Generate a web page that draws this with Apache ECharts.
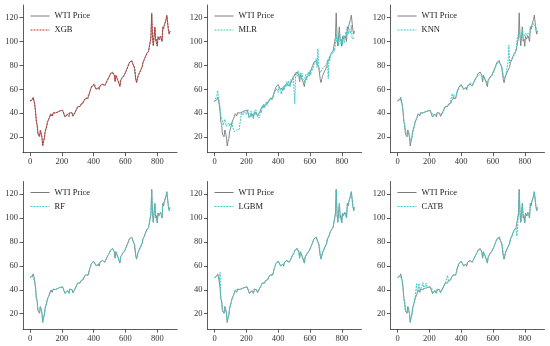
<!DOCTYPE html>
<html>
<head>
<meta charset="utf-8">
<script src="https://cdn.jsdelivr.net/npm/echarts@6/dist/echarts.min.js"></script>
<style>
html,body{margin:0;padding:0;background:#fff;}
#chart{width:550px;height:346px;}
</style>
</head>
<body>
<div id="chart"></div>
<script>
// sample index step (every 5th observation of the daily series)
const sampleStep = 5;
const xTicks = [0, 200, 400, 600, 800];
const yTicks = [20, 40, 60, 80, 100, 120];
const modelNames = ['XGB', 'MLR', 'KNN', 'RF', 'LGBM', 'CATB'];

const wti = [
50.1,50.0,50.3,51.5,53.3,50.9,46.8,41.3,32.5,30.5,
22.4,22.0,20.3,26.0,23.6,20.1,12.6,16.5,18.8,24.6,
24.0,29.4,32.5,33.3,35.5,37.0,39.6,38.5,37.8,40.5,
39.3,40.6,40.2,40.8,41.0,41.2,40.3,41.7,42.0,42.7,
42.9,42.3,43.0,41.5,36.8,37.3,38.3,39.3,39.9,37.0,
40.6,40.2,41.0,40.0,37.4,36.2,38.8,41.4,41.4,42.0,
45.7,45.3,46.0,45.6,47.6,48.1,47.6,48.5,50.6,52.2,
52.4,53.0,52.8,52.2,54.6,57.8,59.5,61.7,63.2,61.5,
64.0,65.0,64.4,60.0,58.6,59.3,61.4,59.7,63.1,63.0,
63.5,64.5,65.0,65.4,63.0,63.6,66.1,67.0,68.8,70.3,
71.0,73.1,73.6,74.0,74.5,72.9,71.7,66.4,71.9,72.0,
71.6,66.5,65.4,62.3,67.5,68.5,70.0,68.4,71.4,72.6,
73.2,74.0,77.3,79.0,80.4,82.7,84.0,82.8,84.0,81.6,
82.0,78.4,76.8,68.2,65.6,69.0,71.6,70.9,71.4,76.0,
75.2,78.9,82.6,84.0,85.0,87.4,87.4,90.3,89.4,92.0,
92.0,92.8,103.4,124.0,104.0,96.4,104.7,112.3,100.3,102.0,
96.0,104.3,102.0,101.8,104.7,103.0,100.0,112.4,110.3,114.1,
115.0,118.5,122.1,120.7,109.6,106.2,109.0];

const xgb = [
50.3,49.8,50.6,51.2,53.0,51.4,47.2,40.6,33.4,29.8,
23.0,21.6,21.0,25.4,24.1,19.6,13.4,16.0,19.3,24.1,
24.5,28.8,32.9,33.0,35.9,36.6,39.2,38.9,37.4,40.1,
39.7,40.3,40.5,40.5,41.3,40.9,40.6,41.4,42.3,42.4,
42.6,42.6,42.7,41.9,37.3,37.0,38.6,39.0,40.2,37.4,
40.2,40.5,40.7,40.3,37.8,36.6,38.5,41.0,41.7,42.3,
45.2,45.6,45.7,45.9,47.3,48.3,47.9,48.2,50.2,52.0,
52.6,52.7,53.0,52.5,54.2,57.4,59.8,61.3,62.8,61.9,
63.6,64.6,64.7,60.5,58.9,59.0,61.0,60.1,62.7,63.3,
63.2,64.2,65.3,65.0,63.4,63.3,65.8,67.3,68.4,70.0,
71.3,72.8,73.9,73.7,74.2,73.3,71.3,66.9,71.5,72.3,
71.2,66.9,65.1,62.8,67.1,68.8,69.7,68.8,71.1,72.9,
72.9,74.3,76.9,79.3,80.1,82.3,83.6,83.1,83.7,81.9,
81.7,78.8,76.4,68.7,66.0,68.7,71.3,71.2,71.1,75.6,
75.5,78.6,82.2,84.3,84.7,87.0,87.7,89.9,89.7,91.7,
92.3,92.5,102.6,122.8,104.6,97.0,104.2,111.6,100.9,101.6,
96.6,103.8,102.4,101.4,104.3,103.4,100.5,111.8,110.6,113.7,
115.3,118.1,121.5,120.3,110.1,106.6,108.6];

const mlr = [
49.5,51.8,52.5,55.0,59.0,53.5,50.0,45.0,38.0,36.5,
33.5,30.0,29.0,35.0,31.5,29.0,28.5,30.5,32.0,29.5,
30.0,31.0,32.5,28.0,26.5,24.5,25.5,24.0,26.0,25.0,
24.5,26.5,25.5,27.0,41.0,40.0,38.5,42.0,40.5,43.0,
39.0,40.5,43.5,36.0,35.5,38.0,42.0,36.5,39.5,35.0,
41.5,38.5,43.0,39.0,38.0,37.5,36.0,38.0,43.5,40.5,
46.5,44.0,48.0,44.5,47.0,49.5,46.5,50.0,49.0,51.5,
50.5,53.5,51.0,54.0,53.0,55.5,58.0,57.0,60.5,59.0,
57.5,62.0,60.5,58.0,56.0,61.0,58.5,62.5,60.0,64.0,
62.0,66.5,63.0,67.0,64.5,62.0,68.0,65.5,66.0,71.0,
70.5,48.0,74.0,72.5,71.0,75.5,73.0,69.0,74.0,70.5,
73.5,69.0,68.0,65.5,70.5,72.5,68.0,72.0,74.5,71.0,
75.5,72.0,78.5,76.0,78.0,80.5,79.0,80.0,86.0,78.5,
94.0,80.0,79.5,74.0,73.0,76.5,78.0,75.5,79.0,77.5,
80.0,81.5,85.0,69.0,86.5,84.0,89.5,88.0,91.0,90.5,
94.0,92.0,97.5,106.0,99.5,102.0,96.5,108.0,104.0,98.0,
101.5,97.5,105.0,99.0,102.5,108.0,104.5,111.0,106.0,110.5,
112.0,107.0,113.5,102.5,104.0,101.0,103.0];

const knn = [
50.5,50.5,51.0,52.0,52.0,51.5,47.0,42.0,34.0,30.0,
25.0,22.5,22.0,24.0,24.0,21.5,17.0,17.5,20.0,23.5,
25.0,28.5,31.5,33.5,35.5,37.5,38.5,38.5,39.0,39.5,
40.0,40.0,40.5,40.5,41.0,41.0,41.0,41.5,42.0,42.5,
42.5,42.5,42.5,41.0,38.5,38.0,38.5,39.0,39.5,38.5,
40.0,40.0,40.5,40.0,38.5,38.0,39.0,40.5,41.5,42.0,
45.0,45.5,46.0,46.0,47.0,47.5,48.0,48.5,54.0,56.5,
52.0,55.5,53.0,53.0,55.0,58.5,58.5,61.0,62.0,62.0,
63.5,63.5,63.5,61.0,59.5,60.0,61.0,60.5,62.5,62.5,
63.5,64.0,65.5,64.5,64.0,64.0,66.0,67.5,68.0,69.5,
70.5,71.5,72.0,72.5,73.0,72.5,71.0,68.5,70.5,71.0,
71.0,68.0,67.0,65.0,67.5,68.5,69.5,68.5,70.5,71.5,
72.5,74.0,76.0,78.0,80.0,81.5,82.5,82.5,82.5,82.0,
81.0,79.5,78.0,72.0,69.0,70.0,71.5,71.0,72.0,83.0,
97.0,82.0,84.0,85.0,86.0,87.0,88.0,89.5,90.0,92.5,
100.0,104.0,106.0,108.5,105.5,102.0,106.0,110.0,103.0,104.0,
103.5,107.0,106.0,104.5,107.0,106.0,105.0,110.5,110.0,112.0,
113.0,115.0,116.5,115.5,112.5,109.0,108.0];

const rf = [
50.4,50.2,50.1,51.8,52.9,51.2,46.5,41.8,33.0,30.9,
22.9,22.3,20.8,25.6,23.9,20.6,13.5,16.8,19.2,24.2,
24.3,29.0,32.2,33.6,35.2,37.3,39.3,38.7,38.0,40.2,
39.5,40.4,40.4,40.6,41.1,41.0,40.5,41.5,42.1,42.5,
42.7,42.5,42.8,41.8,37.2,37.5,38.1,39.5,39.7,37.3,
40.4,40.3,40.8,40.2,37.7,36.5,38.6,41.2,41.6,42.2,
45.4,45.5,45.8,45.8,47.4,48.0,47.8,48.3,50.4,52.0,
52.5,52.8,52.9,52.4,54.4,57.5,59.3,61.5,62.9,61.7,
63.8,64.8,64.5,60.3,58.8,59.1,61.2,59.9,62.9,63.1,
63.4,64.3,65.1,65.2,63.2,63.5,65.9,67.1,68.6,70.1,
71.1,72.9,73.7,73.9,74.3,73.1,71.5,66.7,71.7,72.1,
71.4,66.7,65.3,62.6,67.3,68.6,69.8,68.6,71.2,72.7,
73.0,74.1,77.1,79.1,80.2,82.5,83.8,82.9,83.8,81.8,
81.8,78.6,76.6,68.5,65.9,68.8,71.4,71.0,71.2,75.8,
75.4,78.7,82.4,84.1,84.9,87.2,87.5,90.1,89.6,91.8,
92.1,92.6,103.0,123.0,104.3,96.8,104.4,112.0,100.6,101.8,
96.3,104.0,102.2,101.6,104.5,103.2,100.3,112.0,110.5,113.9,
115.1,118.3,121.8,120.5,109.9,106.4,108.8];

const lgbm = [
50.2,50.1,50.4,51.3,53.1,51.0,46.9,54.5,32.5,30.2,
22.6,22.2,20.6,25.8,23.8,20.4,13.0,16.7,19.0,24.4,
24.2,29.2,32.4,33.4,35.4,37.1,39.5,38.6,37.9,40.4,
39.4,40.5,40.3,40.7,41.0,41.1,40.4,41.6,42.0,42.6,
42.8,42.4,42.9,41.6,37.0,37.4,38.2,39.4,39.8,37.2,
40.5,40.2,40.9,40.1,37.5,36.4,38.7,41.3,41.5,42.1,
45.5,45.4,45.9,45.7,47.5,48.1,47.7,48.4,50.5,52.1,
52.4,52.9,52.8,52.3,54.5,57.6,59.4,61.6,63.0,61.6,
63.9,64.9,64.4,60.2,58.7,59.2,61.3,59.8,63.0,63.0,
63.5,64.4,65.0,65.3,63.1,63.6,66.0,67.0,68.7,70.2,
71.0,73.0,73.6,74.0,74.4,73.0,71.6,66.6,71.8,72.0,
71.5,66.6,65.4,62.5,67.4,68.5,69.9,68.5,71.3,72.6,
73.1,74.0,77.2,79.0,80.3,82.6,83.9,82.8,83.9,81.7,
81.9,78.5,76.7,68.4,65.8,68.9,71.5,70.9,71.3,75.9,
75.3,78.8,82.5,84.0,85.0,87.3,87.4,90.2,89.5,91.9,
92.0,92.7,103.2,123.4,104.2,96.6,104.5,112.1,100.5,101.9,
96.2,104.1,102.1,101.7,104.6,103.1,100.2,112.2,110.4,114.0,
115.0,118.4,121.9,120.6,109.8,106.3,108.9];

const catb = [
50.0,50.4,50.0,51.6,53.0,50.6,47.3,41.6,32.2,30.8,
22.8,21.8,20.8,25.6,24.0,20.5,13.3,16.2,19.0,24.3,
24.3,29.1,33.0,33.5,45.0,37.3,39.3,45.5,38.0,40.3,
39.6,40.5,46.0,40.6,41.2,41.0,45.5,41.5,42.2,42.4,
42.7,42.5,42.8,41.7,37.5,37.1,38.5,39.1,40.1,37.3,
40.3,40.4,40.8,40.2,37.7,36.6,38.6,41.2,41.6,42.1,
45.5,45.6,45.8,52.0,47.3,48.0,47.8,48.3,50.4,52.0,
52.6,52.7,52.9,52.4,54.4,57.5,59.3,61.5,62.9,61.7,
63.7,64.7,64.6,60.4,58.9,59.0,61.1,60.0,62.8,63.2,
63.3,64.2,65.2,65.1,63.3,63.4,65.8,67.2,68.5,70.0,
71.2,72.8,73.8,73.8,74.2,73.2,71.4,66.8,71.6,72.2,
71.3,66.8,65.2,62.7,67.2,68.7,69.7,68.7,71.1,72.8,
72.9,74.2,77.0,79.2,80.1,82.4,83.7,83.0,83.7,81.9,
81.7,78.7,76.5,68.6,66.0,68.7,71.3,71.1,71.1,75.7,
75.5,78.6,82.3,84.2,84.8,87.1,87.6,90.0,89.7,91.7,
85.0,92.5,102.8,122.5,104.5,97.0,104.3,111.8,100.8,101.7,
96.5,103.9,102.3,101.5,104.4,103.3,100.4,111.9,110.6,113.8,
115.2,118.2,121.6,120.4,110.0,106.5,108.7];

const predictions = [xgb, mlr, knn, rf, lgbm, catb];
const predColors = ['#c8322c', '#3fc9c9', '#3fc9c9', '#3fc9c9', '#3fc9c9', '#3fc9c9'];
const wtiColor = '#7a7a7a';
const dash = [2, 1];

function toPairs(arr) {
  return arr.map((v, i) => [i * sampleStep, v]);
}

const serif = '"Liberation Serif", "DejaVu Serif", serif';
const colLefts = [23, 207.5, 390.5];
const rowTops = [5, 181.5];
const legendTops = [11.5, 188];
const pw = 154, ph = 147.7;

const grids = [], xAxes = [], yAxes = [], series = [], legends = [];
for (let k = 0; k < 6; k++) {
  const r = Math.floor(k / 3), c = k % 3;
  const left = colLefts[c], top = rowTops[r];
  grids.push({ left: left, top: top, width: pw, height: ph });
  xAxes.push({
    gridIndex: k, type: 'value', min: -44, max: 924,
    splitLine: { show: false },
    axisLine: { show: true, onZero: false, lineStyle: { color: '#333', width: 0.8 } },
    axisTick: { show: true, length: 3.5, customValues: xTicks, lineStyle: { color: '#333', width: 0.8 } },
    axisLabel: { customValues: xTicks, fontFamily: serif, fontSize: 8.5, color: '#333', margin: 5 }
  });
  yAxes.push({
    gridIndex: k, type: 'value', min: 7, max: 130.6,
    splitLine: { show: false },
    axisLine: { show: true, onZero: false, lineStyle: { color: '#333', width: 0.8 } },
    axisTick: { show: true, length: 3.5, customValues: yTicks, lineStyle: { color: '#333', width: 0.8 } },
    axisLabel: { customValues: yTicks, fontFamily: serif, fontSize: 8.5, color: '#333', margin: 5 }
  });
  series.push({
    name: 'WTI Price', type: 'line', xAxisIndex: k, yAxisIndex: k,
    data: toPairs(wti), symbol: 'none', silent: true,
    lineStyle: { color: wtiColor, width: 0.9 }, itemStyle: { color: wtiColor }
  });
  series.push({
    name: modelNames[k], type: 'line', xAxisIndex: k, yAxisIndex: k,
    data: toPairs(predictions[k]), symbol: 'none', silent: true,
    lineStyle: { color: predColors[k], width: 1, type: dash }, itemStyle: { color: predColors[k] }
  });
  legends.push({
    data: [
      { name: 'WTI Price', itemStyle: { opacity: 0 }, lineStyle: { color: wtiColor, width: 1, type: 'solid' } },
      { name: modelNames[k], itemStyle: { opacity: 0 }, lineStyle: { color: predColors[k], width: 1, type: dash } }
    ],
    orient: 'vertical',
    left: Math.round(left + 6.5), top: legendTops[r], padding: 0,
    itemWidth: 19, itemHeight: 8, itemGap: 5,
    selectedMode: false,
    textStyle: { fontFamily: serif, fontSize: 8.5, color: '#222' }
  });
}

const chart = echarts.init(document.getElementById('chart'), null, { renderer: 'canvas' });
chart.setOption({
  animation: false,
  backgroundColor: '#fff',
  grid: grids, xAxis: xAxes, yAxis: yAxes, series: series, legend: legends
});
</script>
</body>
</html>
